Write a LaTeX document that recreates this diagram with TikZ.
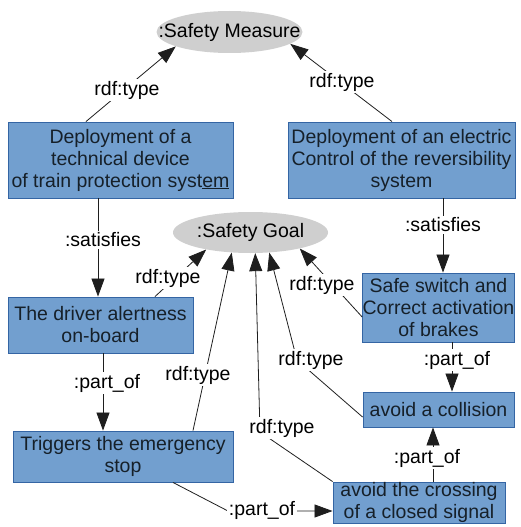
\documentclass[tikz,border=0pt]{standalone}
\usepackage{fontspec}
\setmainfont{Liberation Sans}
\usetikzlibrary{arrows.meta,shapes.geometric,calc}
\definecolor{boxfill}{HTML}{729FCF}
\definecolor{boxline}{HTML}{3465A4}
\definecolor{classfill}{HTML}{CFCFCF}
\definecolor{boxtext}{HTML}{162029}
\definecolor{wire}{HTML}{1E1E1E}

\begin{document}
\begin{tikzpicture}[x=1pt,y=-1pt,
  every node/.style={font=\fontsize{19.5}{22}\selectfont},
  concept/.style={rectangle, draw=boxline, fill=boxfill, line width=0.9pt,
    inner sep=0pt, align=center, text=boxtext},
  cls/.style={ellipse, fill=classfill, inner sep=0pt, text=black},
  rel/.style={draw=wire, line width=0.8pt, -{Triangle[length=18pt,width=13pt]}},
  lbl/.style={fill=white, inner sep=1.5pt, text=black}
]
\useasboundingbox (0,0) rectangle (521,527);

% classes
\node[cls, minimum width=146pt, minimum height=42pt] (sm) at (229.5,32)
  {\makebox[0pt]{:Safety Measure}};
\node[cls, minimum width=155pt, minimum height=41pt] (sg) at (250.5,232.5)
  {\makebox[0pt]{:Safety Goal}};

% individuals
\node[concept, minimum width=225pt, minimum height=76pt] (b1) at (120.5,160)
  {Deployment of a\\technical device\\of train protection syst\underline{em}};
\node[concept, minimum width=227pt, minimum height=76pt] (b2) at (401.5,160)
  {Deployment of an electric\\Control of the reversibility\\system};
\node[concept, minimum width=185pt, minimum height=56pt] (b3) at (100.5,325)
  {The driver alertness\\on-board};
\node[concept, minimum width=151pt, minimum height=69pt] (b4) at (438.5,307.5)
  {Safe switch and\\Correct activation\\of brakes};
\node[concept, minimum width=220pt, minimum height=51pt] (b5) at (123,456.5)
  {Triggers the emergency\\stop};
\node[concept, minimum width=172pt, minimum height=41pt] (b6) at (419,502.5)
  {avoid the crossing\\of a closed signal};
\node[concept, minimum width=151pt, minimum height=35pt] (b7) at (438.5,409.5)
  {avoid a collision};

% connector end points and bends
\coordinate (s1) at ($(b1.south)+(-22.5,0)$);
\coordinate (s2) at ($(b2.south)+(41.5,0)$);
\coordinate (p1) at ($(b3.south)+(2.5,0)$);
\coordinate (p3) at ($(b6.north)+(14,0)$);
\coordinate (p4) at ($(b4.south)+(13.5,0)$);
\coordinate (t1) at ($(b1.north)+(-34.5,0)$);
\coordinate (t2) at ($(b2.north)+(-9.5,0)$);
\coordinate (t3) at ($(b3.north)+(54.5,0)$);
\coordinate (t5) at ($(b5.north)+(70,0)$);
\coordinate (t4) at ($(b4.west)+(0,9.5)$);
\coordinate (t7) at ($(b7.west)+(0,7.5)$);
\coordinate (q5) at ($(b5.south)+(50,0)$);
\coordinate (q6) at ($(b6.west)+(0,8.5)$);
\coordinate (bendA) at (228,511);
\coordinate (bendB) at (260,432);
\coordinate (bendC) at (297,360);

% rdf:type links
\draw[rel] (t1) -- (sm.195);
\draw[rel] (t2) -- (sm.349);
\draw[rel] (t3) -- (sg.201);
\draw[rel] (t5) -- (sg.227);
\draw[rel] (b6.north west) -- (bendB) -- (sg.283);
\draw[rel] (t7) -- (bendC) -- (sg.313);
\draw[rel] (t4) -- (sg.342.5);

% :satisfies links
\draw[rel] (s1) -- (s1 |- b3.north);
\draw[rel] (s2) -- (s2 |- b4.north);

% :part_of links
\draw[rel] (p1) -- (p1 |- b5.north);
\draw[rel] (q5) -- (bendA) -- (q6);
\draw[rel] (p3) -- (p3 |- b7.south);
\draw[rel] (p4) -- (p4 |- b7.north);

% link labels
\node[lbl] (l1) at (127,90) {rdf:type};
\node[lbl] (l2) at (342,82) {rdf:type};
\node[lbl] (l3) at (103,240) {:satisfies};
\node[lbl] (l4) at (443,225) {:satisfies};
\node[lbl] (l5) at (168,278) {rdf:type};
\node[lbl] (l6) at (322,285) {rdf:type};
\node[lbl] (l7) at (107,383) {:part\_of};
\node[lbl] (l8) at (198,375) {rdf:type};
\node[lbl] (l9) at (282,428) {rdf:type};
\node[lbl] (l10) at (311,360) {rdf:type};
\node[lbl] (l11) at (457,360) {:part\_of};
\node[lbl] (l12) at (427,458) {:part\_of};
\node[lbl] (l13) at (262,510) {:part\_of};
\end{tikzpicture}
\end{document}
